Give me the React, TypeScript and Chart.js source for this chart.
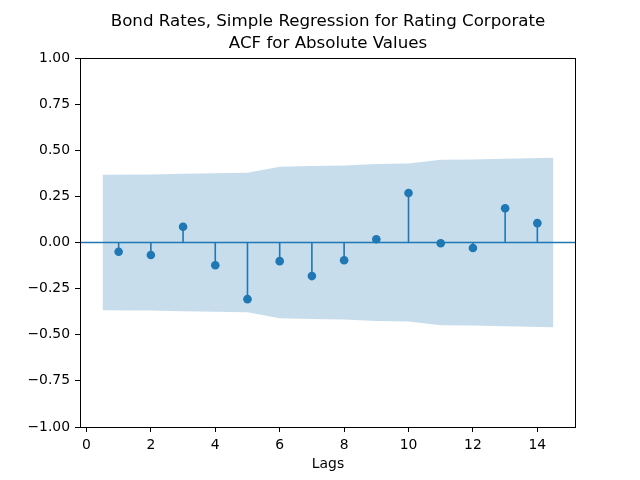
import React, { useEffect, useRef } from "react";
import { Chart, registerables } from "chart.js";

Chart.register(...registerables);

const TITLE_LINES = ["Bond Rates, Simple Regression for Rating Corporate", "ACF for Absolute Values"];
const X_LABEL = "Lags";
const LAGS = [1, 2, 3, 4, 5, 6, 7, 8, 9, 10, 11, 12, 13, 14];
const ACF = [-0.05, -0.068, 0.085, -0.123, -0.307, -0.101, -0.182, -0.096, 0.018, 0.268, -0.004, -0.03, 0.186, 0.105];
const BAND_X = [0.5, 2, 3, 4, 5, 6, 7, 8, 9, 10, 11, 12, 13, 14.5];
const BAND_UPPER = [0.367, 0.368, 0.372, 0.376, 0.378, 0.41, 0.414, 0.418, 0.425, 0.428, 0.448, 0.45, 0.454, 0.46];
const BAND_LOWER = [-0.367, -0.368, -0.372, -0.376, -0.378, -0.41, -0.414, -0.418, -0.425, -0.428, -0.448, -0.45, -0.454, -0.46];
const X_TICKS = [0, 2, 4, 6, 8, 10, 12, 14];
const Y_TICKS = [-1, -0.75, -0.5, -0.25, 0, 0.25, 0.5, 0.75, 1];
const X_MIN = -0.2;
const X_MAX = 15.2;
const Y_MIN = -1;
const Y_MAX = 1;

const BLUE = "#1f77b4";
const FONT = "'DejaVu Sans', sans-serif";

const framePlugin = {
  id: "frame",
  afterDraw(chart: any) {
    const { ctx, chartArea } = chart;
    ctx.save();
    ctx.strokeStyle = "#000";
    ctx.lineWidth = 1;
    ctx.strokeRect(chartArea.left + 0.5, chartArea.top + 0.5, chartArea.right - chartArea.left - 1, chartArea.bottom - chartArea.top);
    // title centred over the axes, like matplotlib
    ctx.fillStyle = "#000";
    ctx.font = `16.67px ${FONT}`;
    ctx.textAlign = "center";
    ctx.textBaseline = "alphabetic";
    const cx = (chartArea.left + chartArea.right) / 2;
    TITLE_LINES.forEach((line, i) => {
      ctx.fillText(line, cx, 26 + i * 21.7);
    });
    ctx.restore();
  },
};

export default function App() {
  const ref = useRef<HTMLCanvasElement | null>(null);

  useEffect(() => {
    if (!ref.current) return;
    const stems: any[] = [];
    LAGS.forEach((k, i) => {
      stems.push({ x: k, y: 0 }, { x: k, y: ACF[i] }, { x: k, y: null });
    });
    const chart = new Chart(ref.current, {
      type: "line",
      data: {
        datasets: [
          {
            data: BAND_X.map((x, i) => ({ x, y: BAND_UPPER[i] })),
            borderWidth: 0,
            pointRadius: 0,
            fill: "+1",
            backgroundColor: "rgba(31,119,180,0.25)",
            borderColor: "rgba(0,0,0,0)",
            order: 10,
          },
          {
            data: BAND_X.map((x, i) => ({ x, y: BAND_LOWER[i] })),
            borderWidth: 0,
            pointRadius: 0,
            fill: false,
            borderColor: "rgba(0,0,0,0)",
            order: 11,
          },
          {
            data: [
              { x: X_MIN, y: 0 },
              { x: X_MAX, y: 0 },
            ],
            borderColor: BLUE,
            borderWidth: 1.6,
            pointRadius: 0,
            fill: false,
            order: 5,
          },
          {
            data: stems,
            borderColor: BLUE,
            borderWidth: 1.6,
            pointRadius: 0,
            spanGaps: false,
            fill: false,
            order: 3,
          },
          {
            data: LAGS.map((k, i) => ({ x: k, y: ACF[i] })),
            showLine: false,
            pointRadius: 4.3,
            pointBackgroundColor: BLUE,
            pointBorderColor: BLUE,
            pointBorderWidth: 0,
            fill: false,
            order: 1,
          },
        ],
      },
      options: {
        responsive: false,
        animation: false,
        devicePixelRatio: 1,
        layout: { padding: { left: 0, right: 64, top: 58, bottom: 0 } },
        plugins: {
          legend: { display: false },
          tooltip: { enabled: false },
          title: { display: false },
        },
        scales: {
          x: {
            type: "linear",
            min: X_MIN,
            max: X_MAX,
            afterBuildTicks: (scale: any) => {
              scale.ticks = X_TICKS.map((v) => ({ value: v }));
            },
            afterFit: (scale: any) => {
              scale.height = 53;
            },
            grid: { drawOnChartArea: false, drawTicks: true, tickLength: 5, tickColor: "#000", tickWidth: 1 },
            border: { display: false },
            ticks: {
              color: "#000",
              font: { family: FONT, size: 13.9 },
              padding: 5,
              maxRotation: 0,
              autoSkip: false,
              callback: (v: any) => String(v),
            },
            title: {
              display: true,
              text: X_LABEL,
              color: "#000",
              font: { family: FONT, size: 13.9 },
              padding: { top: 0, bottom: 7 },
            },
          },
          y: {
            type: "linear",
            min: Y_MIN,
            max: Y_MAX,
            afterBuildTicks: (scale: any) => {
              scale.ticks = Y_TICKS.map((v) => ({ value: v }));
            },
            afterFit: (scale: any) => {
              scale.width = 80;
            },
            grid: { drawOnChartArea: false, drawTicks: true, tickLength: 5, tickColor: "#000", tickWidth: 1 },
            border: { display: false },
            ticks: {
              color: "#000",
              font: { family: FONT, size: 13.9 },
              padding: 5,
              autoSkip: false,
              callback: (v: any) => (v < 0 ? "\u2212" : "") + Math.abs(v).toFixed(2),
            },
          },
        },
      },
      plugins: [framePlugin],
    } as any);
    return () => chart.destroy();
  }, []);

  return (
    <div style={{ position: "absolute", left: 0, top: 0, width: 640, height: 480, background: "#fff" }}>
      <canvas ref={ref} width={640} height={480} />
    </div>
  );
}
